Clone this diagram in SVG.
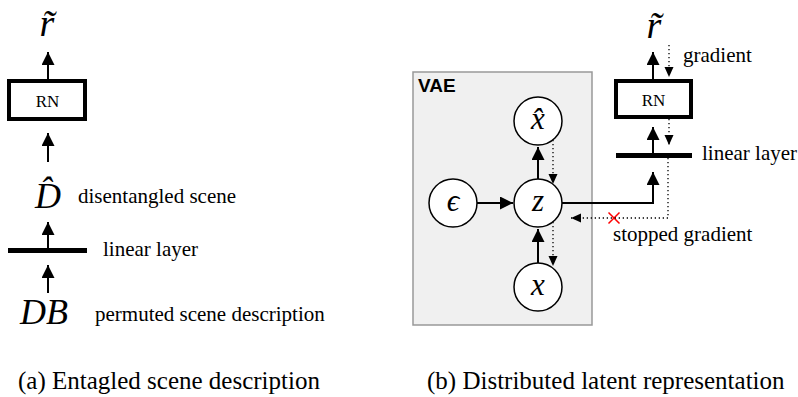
<svg xmlns="http://www.w3.org/2000/svg" width="798" height="397" viewBox="0 0 798 397">
<defs>
<style>
.lbl{font-family:"Liberation Serif","Times New Roman",serif;font-size:21px;fill:#000}
.cap{font-family:"Liberation Serif","Times New Roman",serif;font-size:25px;fill:#000}
.math{font-family:"Liberation Serif","DejaVu Serif",serif;font-style:italic;fill:#000}
.rn{font-family:"Liberation Serif","Times New Roman",serif;font-size:17px;fill:#000;text-anchor:middle}
.box{fill:#fff;stroke:#000;stroke-width:4}
.bar{stroke:#000;stroke-width:5}
.node{fill:#fff;stroke:#000;stroke-width:1.5}
.solid{fill:none;stroke:#000;stroke-width:2;marker-end:url(#ah)}
.dot{fill:none;stroke:#000;stroke-width:1.3;stroke-dasharray:1.3 2.7;marker-end:url(#dh)}
</style>
<marker id="ah" markerUnits="userSpaceOnUse" markerWidth="14" markerHeight="14" refX="13" refY="6.5" orient="auto">
<path d="M0,0 L13,6.5 L0,13 z" fill="#000"/>
</marker>
<marker id="dh" markerUnits="userSpaceOnUse" markerWidth="11" markerHeight="10" refX="10" refY="4.5" orient="auto">
<path d="M0,0 L10,4.5 L0,9 z" fill="#000"/>
</marker>
</defs>
<rect width="798" height="397" fill="#fff"/>

<!-- Left panel -->
<g id="left-r">
<text class="math" x="47" y="36" font-size="38" text-anchor="middle">r̃</text>
</g>
<g id="left-rn">
<rect class="box" x="9" y="81" width="76" height="38"/>
<text class="rn" x="47.5" y="107">RN</text>
</g>
<g id="left-dhat">
<text class="math" x="48" y="208" font-size="36" text-anchor="middle">D̂</text>
<text class="lbl" x="78" y="203">disentangled scene</text>
</g>
<g id="left-linear">
<line class="bar" x1="8" y1="250.5" x2="87" y2="250.5"/>
<text class="lbl" x="103" y="256">linear layer</text>
</g>
<g id="left-db">
<text class="math" x="20" y="324" font-size="36">DB</text>
<text class="lbl" x="95" y="321">permuted scene description</text>
</g>

<!-- Right panel -->
<g id="vae">
<rect x="413" y="72" width="179" height="253" fill="#f0f0f0" stroke="#999" stroke-width="1.5"/>
<text x="418" y="92" font-family="Liberation Sans, Arial, sans-serif" font-weight="bold" font-size="19">VAE</text>
</g>
<g id="node-xhat">
<circle class="node" cx="538" cy="121" r="24"/>
<text class="math" x="538" y="129" font-size="31" text-anchor="middle">x̂</text>
</g>
<g id="node-eps">
<circle class="node" cx="453" cy="203" r="24"/>
<text class="math" x="453" y="211" font-size="31" text-anchor="middle">ϵ</text>
</g>
<g id="node-z">
<circle class="node" cx="538" cy="203" r="24"/>
<text class="math" x="538" y="211" font-size="31" text-anchor="middle">z</text>
</g>
<g id="node-x">
<circle class="node" cx="538" cy="287" r="24"/>
<text class="math" x="538" y="295" font-size="31" text-anchor="middle">x</text>
</g>
<g id="right-r">
<text class="math" x="654" y="38" font-size="38" text-anchor="middle">r̃</text>
<text class="lbl" x="683" y="62">gradient</text>
</g>
<g id="right-rn">
<rect class="box" x="616" y="81" width="75" height="36"/>
<text class="rn" x="653.5" y="106">RN</text>
</g>
<g id="right-linear">
<line class="bar" x1="616" y1="155.5" x2="692" y2="155.5"/>
<text class="lbl" x="702" y="160">linear layer</text>
</g>
<g id="stopped">
<text class="lbl" x="613" y="241">stopped gradient</text>
<path d="M608.5,212.5 L619.5,223.5 M619.5,212.5 L608.5,223.5" stroke="#f00" stroke-width="1.5"/>
</g>

<!-- Connectors -->
<g id="connectors">
<line class="solid" x1="48" y1="79" x2="48" y2="52"/>
<line class="solid" x1="48" y1="162" x2="48" y2="133"/>
<line class="solid" x1="48" y1="248" x2="48" y2="222"/>
<line class="solid" x1="48" y1="293" x2="48" y2="265"/>

<line class="solid" x1="477" y1="203" x2="513" y2="203"/>
<line class="solid" x1="538" y1="179" x2="538" y2="147"/>
<line class="dot" x1="553" y1="140" x2="553" y2="184"/>
<line class="solid" x1="538" y1="263" x2="538" y2="229"/>
<line class="dot" x1="553" y1="222" x2="553" y2="266"/>
<path class="solid" d="M562,203 H653 V172"/>
<path class="dot" d="M668,158 V218 H571"/>

<line class="solid" x1="653" y1="79" x2="653" y2="52"/>
<line class="dot" x1="669" y1="45" x2="669" y2="77"/>
<line class="solid" x1="653" y1="153" x2="653" y2="127"/>
<line class="dot" x1="669" y1="119" x2="669" y2="145"/>
</g>

<!-- Captions -->
<text class="cap" x="18" y="389">(a) Entagled scene description</text>
<text class="cap" x="427" y="389">(b) Distributed latent representation</text>
</svg>
